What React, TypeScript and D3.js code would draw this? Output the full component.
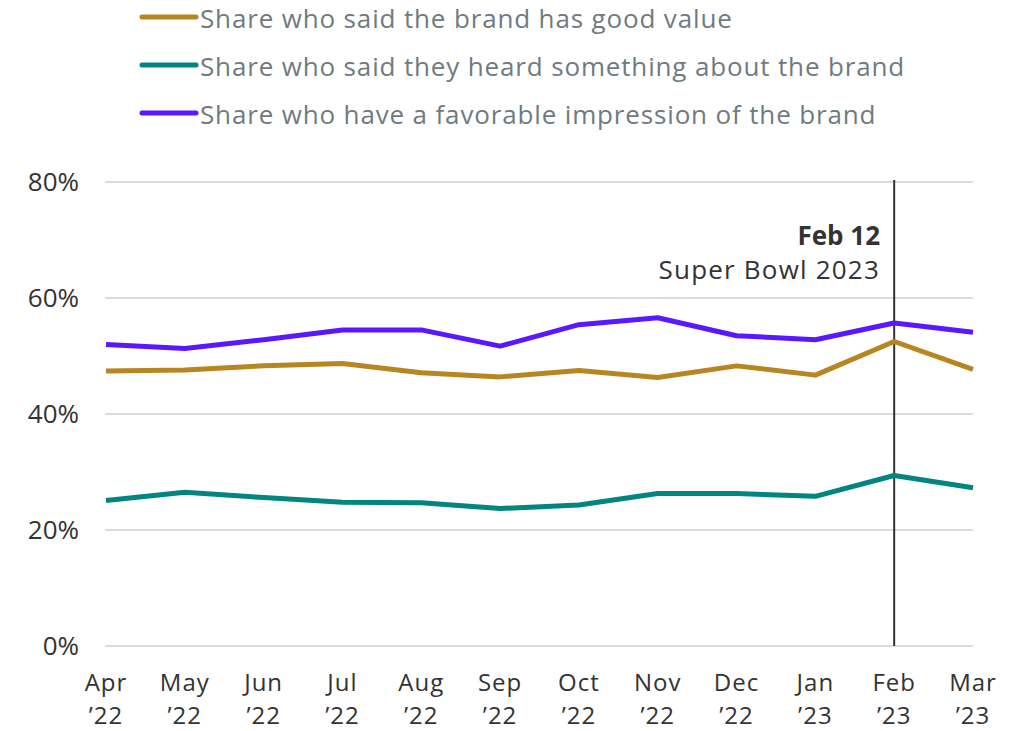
import React from "react";
import * as d3 from "d3";

const months = ["Apr", "May", "Jun", "Jul", "Aug", "Sep", "Oct", "Nov", "Dec", "Jan", "Feb", "Mar"];
const years = ["’22", "’22", "’22", "’22", "’22", "’22", "’22", "’22", "’22", "’23", "’23", "’23"];
const goodValue = [47.4, 47.6, 48.3, 48.7, 47.1, 46.4, 47.5, 46.3, 48.3, 46.7, 52.5, 47.7];
const heardSomething = [25.1, 26.5, 25.6, 24.8, 24.7, 23.7, 24.3, 26.3, 26.3, 25.8, 29.4, 27.3];
const favorable = [52.0, 51.3, 52.8, 54.5, 54.5, 51.7, 55.4, 56.6, 53.5, 52.8, 55.7, 54.1];
const yTicks = [0, 20, 40, 60, 80];
const seriesNames = [
  "Share who said the brand has good value",
  "Share who said they heard something about the brand",
  "Share who have a favorable impression of the brand",
];
const seriesColors = ["#b88620", "#008580", "#5a18ff"];
const eventIndex = 10;

export default function App() {
  const W = 1030, H = 731;
  const x = d3.scalePoint<number>().domain(d3.range(months.length)).range([106, 973]);
  const y = d3.scaleLinear().domain([0, 80]).range([646, 182]);
  const line = d3.line<number>().x((_, i) => x(i) as number).y((d) => y(d));
  const series = [goodValue, heardSomething, favorable];
  const font = "'Open Sans', Lato, sans-serif";
  return (
    <svg width={W} height={H} style={{ position: "absolute", left: 0, top: 0 }} fontFamily={font}>
      {seriesNames.map((name, i) => (
        <g key={name} transform={`translate(0, ${17 + i * 48})`}>
          <line x1={142} x2={196} y1={0} y2={0} stroke={seriesColors[i]} strokeWidth={5} strokeLinecap="round" />
          <text x={200} y={2} dy="0.35em" fontSize={26} fill="#6f7a80" letterSpacing={0.85}>{name}</text>
        </g>
      ))}
      {yTicks.map((t) => (
        <g key={t}>
          <line x1={105} x2={973} y1={y(t)} y2={y(t)} stroke="#dcdcdc" strokeWidth={2} />
          <text x={79} y={y(t)} dy="0.35em" textAnchor="end" fontSize={26} fill="#333">{t}%</text>
        </g>
      ))}
      {months.map((m, i) => (
        <g key={i}>
          <text x={x(i)} y={682.5} dy="0.35em" textAnchor="middle" fontSize={24} fill="#333" letterSpacing={1}>{m}</text>
          <text x={x(i)} y={715.3} dy="0.35em" textAnchor="middle" fontSize={24} fill="#333" letterSpacing={1}>{years[i]}</text>
        </g>
      ))}
      <line x1={x(eventIndex)} x2={x(eventIndex)} y1={180} y2={646} stroke="#333" strokeWidth={2} />
      <text x={880} y={236} dy="0.35em" textAnchor="end" fontSize={26} fontWeight={700} fill="#333">Feb 12</text>
      <text x={880} y={270} dy="0.35em" textAnchor="end" fontSize={26} fill="#333" letterSpacing={1.2}>Super Bowl 2023</text>
      {series.map((s, i) => (
        <path key={i} d={line(s) || ""} fill="none" stroke={seriesColors[i]} strokeWidth={5} strokeLinejoin="round" />
      ))}
    </svg>
  );
}
